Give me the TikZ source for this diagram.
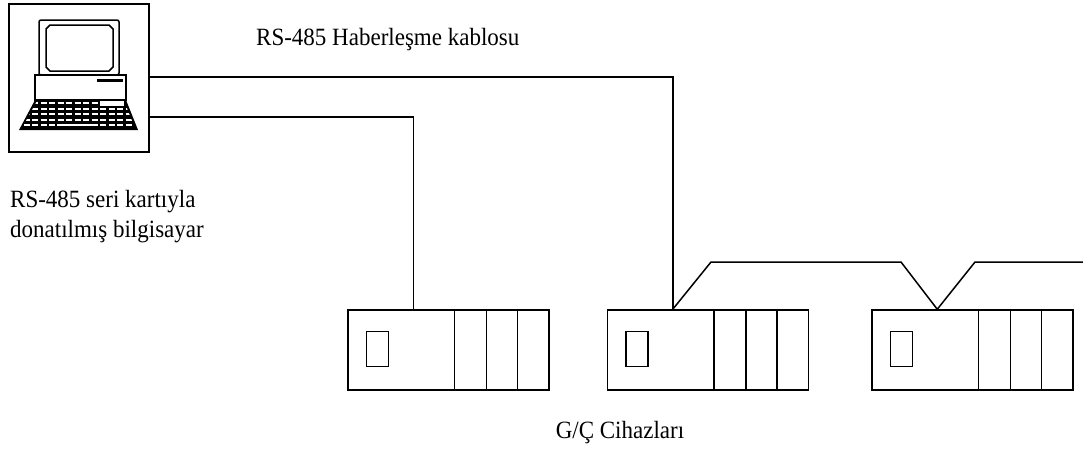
\documentclass[tikz,border=0pt]{standalone}
\usepackage{fontspec}
\setmainfont{Liberation Serif}
\usetikzlibrary{positioning}
\tikzstyle{line}=[black,line width=1.5pt]
\tikzstyle{unit}=[draw,line width=1.5pt,minimum width=201pt,minimum height=80pt,inner sep=0pt]
\tikzstyle{txt}=[font=\fontsize{23}{28}\selectfont,inner sep=0pt,yscale=1.08]

\begin{document}
\begin{tikzpicture}[x=1pt,y=-1pt]
	\useasboundingbox (0,0) rectangle (1083,453);

	% computer
	\node[draw,line,minimum width=140pt,minimum height=148pt] (pc) at (79,78) {};
	\draw[line,rounded corners=2pt] (39,20) rectangle (119,75);
	\draw[line] (50,25) -- (109,25) -- (113,29) -- (113,67) -- (109,71)
	-- (50,71) -- (46,67) -- (46,29) -- cycle;
	\draw[line] (35,75) rectangle (126,100);
	\fill (97,79) rectangle (123,82);
	\fill (35,100) -- (126,100) -- (138,130) -- (19,130) -- cycle;
	\begin{scope}
		\clip (37,101) -- (124,101) -- (135,128) -- (22,128) -- cycle;
		\foreach \r in {103,109,114,120,125}
			\draw[white,line width=2pt,dash pattern=on 6pt off 2.5pt] (15,\r) -- (140,\r);
	\end{scope}
	\fill[white] (100,101) rectangle (124,105.5);
	\fill[white] (57,124) rectangle (93,126);

	% i/o units
	\node[unit] (io1) at (448.5,350) {};
	\node[unit] (io2) at (708,350) {};
	\node[unit] (io3) at (972.5,350) {};
	\foreach \b in {io1,io2,io3} {
		\foreach \d in {107,139,170}
			\draw[line] ([xshift=\d pt]\b.north west) -- ([xshift=\d pt]\b.south west);
		\draw[line] ([xshift=19pt,yshift=-22pt]\b.north west) rectangle ([xshift=41pt,yshift=-57pt]\b.north west);
		\coordinate (\b-in) at ([xshift=66pt]\b.north west);
	}

	% cable
	\coordinate (up1) at (711,262);
	\coordinate (up2) at (901,262);
	\coordinate (up3) at (975,262);
	\coordinate (end) at (1083,262);
	\draw[line] ([yshift=1pt]pc.east) -| (io2-in);
	\draw[line] ([yshift=-39pt]pc.east) -| (io1-in);
	\draw[line] (io2-in) -- (up1) -- (up2) -- (io3-in) -- (up3) -- (end);

	% text
	\node[txt,anchor=base west] (cable) at (256,45) {RS-485 Haberleşme kablosu};
	\node[txt,anchor=north west,align=left] (pctext) at (10,190) {RS-485 seri kartıyla\\donatılmış bilgisayar};
	\node[txt,anchor=base] (iotext) at (620,438) {G/Ç Cihazları};
\end{tikzpicture}
\end{document}
